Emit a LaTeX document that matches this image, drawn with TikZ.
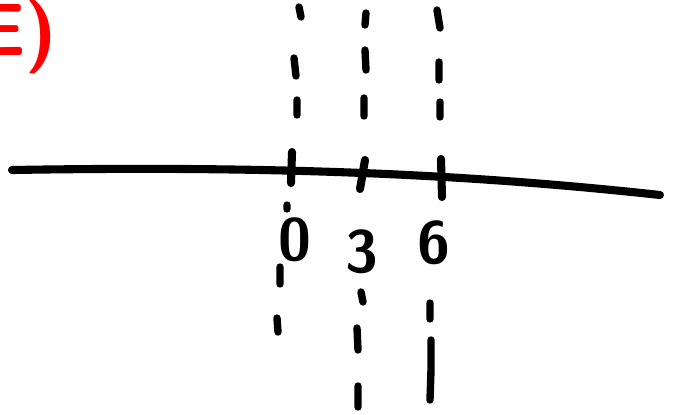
\documentclass[tikz,border=0pt]{standalone}
\usepackage{tikz}
\usetikzlibrary{positioning}
\tikzset{
  ink/.style={line width=2.3pt, line cap=round, line join=round},
  digit/.style={inner sep=0pt, font=\sffamily\bfseries\fontsize{17}{17}\selectfont},
}

\begin{document}
\begin{tikzpicture}[x=0.01cm, y=-0.01cm,
    dsh/.style={ink, line width=2.1pt},
    tag/.style={red, inner sep=0pt, font=\sffamily\bfseries\fontsize{21}{21}\selectfont}
]
  \useasboundingbox (0,0) rectangle (687,414);
  \begin{scope}
    \clip (0,0) rectangle (687,414);
    \node[tag, anchor=east] (part) at (58,37) {E)};
  \end{scope}

  % number line
  \coordinate (west) at (12,170);
  \coordinate (east) at (660,195);
  \draw[ink] (west) .. controls (250,166) and (450,172) .. (east);

  % ticks
  \draw[ink] (292,152) -- (291,183);
  \draw[ink] (365,160) -- (360,189);
  \draw[ink] (441,159) -- (442,197);

  \node[digit] (zero) at (295,240) {0};
  \node[digit] (three) at (362,252) {3};
  \node[digit] (six) at (434,243) {6};

  % dashed guides
  \draw[dsh] (299,7) -- (301,17) (294,58) -- (296,76) (297,100) -- (297,115);
  \draw[dsh] (287,205) -- (287,209) (280,267) -- (280,284) (277,318) -- (278,332);
  \draw[dsh] (366,13) -- (365,25) (365,50) -- (366,70) (364,98) -- (364,116);
  \draw[dsh] (361,292) -- (363,302) (357,328) -- (358,350) (358,386) -- (358,407);
  \draw[dsh] (437,10) -- (440,28) (439,62) -- (439,80) (440,102) -- (440,117);
  \draw[dsh] (430,303) -- (430,319) (431,340) -- (431,370) -- (430,400);
\end{tikzpicture}
\end{document}
